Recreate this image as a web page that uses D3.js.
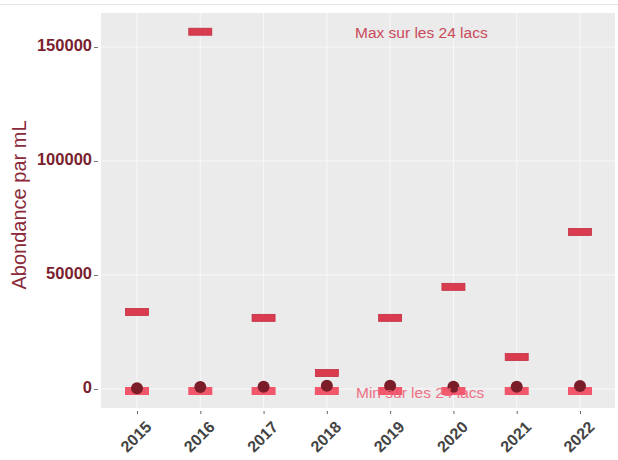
<!DOCTYPE html>
<html><head><meta charset="utf-8">
<script src="https://cdn.jsdelivr.net/npm/d3@7"></script>
<style>body{margin:0;background:#fff;}svg{display:block;font-family:"Liberation Sans",Arial,sans-serif;}</style>
</head><body><svg id="c" width="618" height="460"></svg>
<script>
const years = ["2015","2016","2017","2018","2019","2020","2021","2022"];
const maxVals = [33800, 156700, 31200, 7000, 31200, 44800, 14000, 68900];
const minVals = [0, 0, 0, 0, 0, 0, 0, 0];
const meanVals = [300, 900, 1000, 1400, 1400, 1000, 1000, 1300];
const yTicks = [0, 50000, 100000, 150000];

const svg = d3.select("#c");
const L = 101, R = 615, T = 13, B = 408;
const x = d3.scalePoint().domain(years).range([137, 580]);
const y = d3.scaleLinear().domain([0, 150000]).range([389, 47]);

svg.append("line").attr("x1",0).attr("x2",618).attr("y1",4.5).attr("y2",4.5).attr("stroke","#e4e4e4");
svg.append("rect").attr("x",L).attr("y",T).attr("width",R-L).attr("height",B-T).attr("fill","#ebebeb");

const g = svg.append("g");
g.selectAll(".hg").data(yTicks).join("line")
  .attr("x1",L).attr("x2",R).attr("y1",d=>y(d)).attr("y2",d=>y(d))
  .attr("stroke","#f8f8f8").attr("stroke-width",1);
g.selectAll(".vg").data(years).join("line")
  .attr("x1",d=>x(d)).attr("x2",d=>x(d)).attr("y1",T).attr("y2",B)
  .attr("stroke","#f8f8f8").attr("stroke-width",1);

// y axis
const ya = svg.append("g").attr("transform",`translate(${L-3},0)`)
  .call(d3.axisLeft(y).tickValues(yTicks).tickFormat(d3.format("d")).tickSize(4).tickPadding(2));
ya.select(".domain").remove();
ya.selectAll(".tick line").attr("stroke","#777");
ya.selectAll("text").attr("fill","#7a1f2f").attr("font-size",16.5).attr("font-weight","bold").attr("dy","0.2em");

// x axis
const xa = svg.append("g").attr("transform",`translate(0,${B+3})`)
  .call(d3.axisBottom(x).tickSize(3).tickPadding(0));
xa.select(".domain").remove();
xa.selectAll(".tick line").attr("stroke","#666");
xa.selectAll(".tick text").attr("y",0).attr("dy",0).attr("fill","#444").attr("font-size",16).attr("font-weight","bold")
  .attr("text-anchor","end")
  .attr("transform","translate(15,17) rotate(-45)");

svg.append("text").attr("transform","translate(26,205) rotate(-90)")
  .attr("text-anchor","middle").attr("fill","#8a2a3a").attr("font-size",20)
  .text("Abondance par mL");

const bw = 23;
// min bars
svg.selectAll(".minb").data(years).join("rect")
  .attr("x",d=>x(d)-bw/2-0.5).attr("y",(d,i)=>y(minVals[i])-2).attr("width",bw+1).attr("height",8)
  .attr("fill","#f2566a");
// max bars
svg.selectAll(".maxb").data(years).join("rect")
  .attr("x",d=>x(d)-bw/2).attr("y",(d,i)=>y(maxVals[i])-3.5).attr("width",bw).attr("height",7)
  .attr("fill","#d83c4e").attr("stroke","#c42f42").attr("stroke-width",0.8);
// mean dots
svg.selectAll(".dot").data(years).join("circle")
  .attr("cx",d=>x(d)).attr("cy",(d,i)=>y(meanVals[i])).attr("r",6)
  .attr("fill","#7b1d28");

svg.append("text").attr("x",355).attr("y",38).attr("fill","#c94a5a").attr("font-size",15.5)
  .text("Max sur les 24 lacs");
svg.append("text").attr("x",356).attr("y",398).attr("fill","#f0647a").attr("font-size",15.5)
  .attr("opacity",0.9).text("Min sur les 24 lacs");
</script></body></html>
